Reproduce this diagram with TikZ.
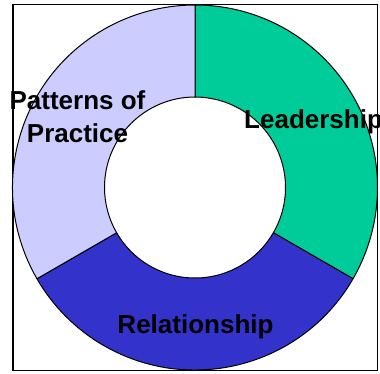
\documentclass[tikz,border=0pt]{standalone}
\usepackage{fontspec}
\setmainfont{Liberation Sans}
\usepackage{tikz}

\definecolor{leadgreen}{HTML}{00CC99}
\definecolor{relblue}{HTML}{3333CC}
\definecolor{patlav}{HTML}{CCCCFF}

\begin{document}
\begin{tikzpicture}[x=1pt,y=1pt,
    ring/.style={draw=black,line width=1pt,line join=round},
    lbl/.style={inner sep=0pt,font=\fontsize{26}{33}\selectfont\bfseries}]
    \useasboundingbox (0,0) rectangle (380,373);
    \draw[line width=1.4pt] (13,2.5) rectangle (377.5,368.5);
    \begin{scope}[shift={(195,185.5)}]
      \filldraw[ring,fill=leadgreen] (90:182.5) arc[start angle=90,end angle=-30,radius=182.5]
        -- (-30:90.5) arc[start angle=-30,end angle=90,radius=90.5] -- cycle;
      \filldraw[ring,fill=relblue] (-30:182.5) arc[start angle=-30,end angle=-150,radius=182.5]
        -- (-150:90.5) arc[start angle=-150,end angle=-30,radius=90.5] -- cycle;
      \filldraw[ring,fill=patlav] (-150:182.5) arc[start angle=-150,end angle=-270,radius=182.5]
        -- (90:90.5) arc[start angle=90,end angle=210,radius=90.5] -- cycle;
    \end{scope}
    \node[lbl,anchor=base west] (lead) at (244,244.5) {Leadership};
    \node[lbl,anchor=base] (rel) at (195.5,39.7) {Relationship};
    \node[lbl,anchor=base,align=center] (pat) at (77.5,230.5) {Patterns of\\Practice};
  \end{tikzpicture}
\end{document}
